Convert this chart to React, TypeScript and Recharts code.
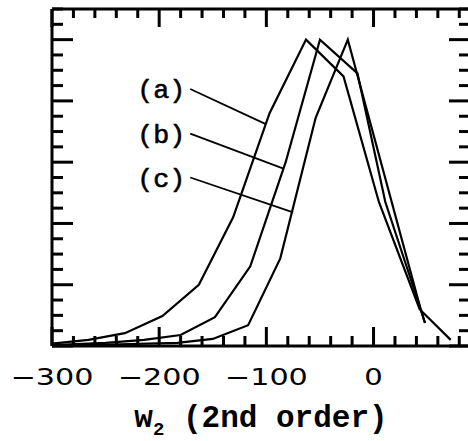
import React from "react";
import {
  LineChart,
  Line,
  XAxis,
  YAxis,
  ReferenceLine,
  ReferenceDot,
} from "recharts";

/* curves (a) (b) (c) ------------------------------------------------ */
const A_X = [-300, -266, -232, -197, -163, -131, -97, -63, -28, 5, 43, 72];
const A_Y = [0.008, 0.02, 0.042, 0.098, 0.2, 0.42, 0.76, 1.0, 0.88, 0.47, 0.12, 0.02];

const B_X = [-300, -250, -214, -180, -148, -115, -82, -50, -15, 11, 44, 48];
const B_Y = [0.003, 0.01, 0.02, 0.036, 0.094, 0.26, 0.6, 1.0, 0.89, 0.47, 0.12, 0.075];

const C_X = [-300, -183, -150, -117, -87, -54, -24, 44, 48];
const C_Y = [0.0, 0.01, 0.023, 0.068, 0.286, 0.745, 1.0, 0.12, 0.075];

/* ticks ------------------------------------------------------------- */
const X_TICKS = [-300, -280, -260, -240, -220, -200, -180, -160, -140, -120, -100, -80, -60, -40, -20, 0, 20, 40, 60, 80];
const X_LABELS = [-300, -200, -100, 0];
const Y_TICKS = [0, 0.05, 0.1, 0.15, 0.2, 0.25, 0.3, 0.35, 0.4, 0.45, 0.5, 0.55, 0.6, 0.65, 0.7, 0.75, 0.8, 0.85, 0.9, 0.95, 1.0, 1.05, 1.1];
const Y_MAJOR = [0, 0.2, 0.4, 0.6, 0.8, 1.0];

/* curve tags + pointer lines --------------------------------------- */
const TAGS = ["(a)", "(b)", "(c)"];
const TAG_FROM_X = [-171, -171, -171];
const TAG_FROM_Y = [0.839, 0.693, 0.55];
const TAG_TO_X = [-101, -84, -75];
const TAG_TO_Y = [0.725, 0.579, 0.436];

const zip = (xs: number[], ys: number[]) => xs.map((x, i) => ({ x, y: ys[i] }));
const CURVES = [zip(A_X, A_Y), zip(B_X, B_Y), zip(C_X, C_Y)];

/* frame ------------------------------------------------------------- */
const W = 470;
const H = 441;
const LEFT_W = 52;
const TOP_H = 9;
const BOTTOM_H = 95;
const PLOT_W = W - LEFT_W;
const PLOT_H = H - TOP_H - BOTTOM_H;
const X_DOM: [number, number] = [-300, 90];
const Y_DOM: [number, number] = [0, 1.1];
// pixel -> data units, so the tick marks keep a fixed pixel length
const PX_X = (X_DOM[1] - X_DOM[0]) / PLOT_W;
const PX_Y = (Y_DOM[1] - Y_DOM[0]) / PLOT_H;

const isMajorX = (v: number) => X_LABELS.includes(v);
const isMajorY = (v: number) => Y_MAJOR.some((m) => Math.abs(m - v) < 1e-9);
const fmt = (v: number) => (v < 0 ? "\u2212" + Math.abs(v) : String(v));

const TW = 3;

/* inward tick marks, top/bottom + left/right */
const TICK_SEGS: { x: number; y: number }[][] = [];
X_TICKS.forEach((v) => {
  const lb = (isMajorX(v) ? 19 : 10) * PX_Y;
  const lt = (isMajorX(v) ? 18 : 9) * PX_Y;
  TICK_SEGS.push([{ x: v, y: Y_DOM[0] }, { x: v, y: Y_DOM[0] + lb }]);
  TICK_SEGS.push([{ x: v, y: Y_DOM[1] }, { x: v, y: Y_DOM[1] - lt }]);
});
Y_TICKS.forEach((v) => {
  const l = (isMajorY(v) ? 21 : 11) * PX_X;
  TICK_SEGS.push([{ x: X_DOM[0], y: v }, { x: X_DOM[0] + l, y: v }]);
  TICK_SEGS.push([{ x: X_DOM[1], y: v }, { x: X_DOM[1] - l, y: v }]);
});

function XLabel({ x, y, payload }: any) {
  const v = payload.value;
  if (!isMajorX(v)) return <g />;
  const s = fmt(v);
  return (
    <text
      x={x}
      y={y + 39}
      textAnchor="middle"
      fontFamily="DejaVu Sans"
      fontSize={23}
      fill="#000"
      textLength={s.length * 21.5 - 3}
      lengthAdjust="spacingAndGlyphs"
    >
      {s}
    </text>
  );
}

function Title({ viewBox }: any) {
  const cx = viewBox.x + viewBox.width / 2;
  return (
    <text
      x={cx}
      y={viewBox.y + 81}
      textAnchor="middle"
      fontFamily="Liberation Mono"
      fontWeight="bold"
      fontSize={31}
      fill="#000"
    >
      <tspan>w</tspan>
      <tspan dy={8} fontSize={19}>2</tspan>
      <tspan dy={-8}> (2nd order)</tspan>
    </text>
  );
}

export default function App() {
  return (
    <div style={{ position: "absolute", left: 0, top: 0, width: 468, height: 441, overflow: "hidden", background: "#fff" }}>
      <LineChart width={W} height={H} margin={{ top: 0, right: 0, bottom: 0, left: 0 }}>
        <XAxis
          xAxisId="b"
          type="number"
          dataKey="x"
          domain={X_DOM}
          ticks={X_TICKS}
          interval={0}
          height={BOTTOM_H}
          tickSize={0}
          tickMargin={0}
          tickLine={false}
          tick={<XLabel />}
          axisLine={{ stroke: "#000", strokeWidth: 3 }}
          label={{ content: (p: any) => <Title {...p} /> }}
        />
        <XAxis
          xAxisId="t"
          orientation="top"
          type="number"
          domain={X_DOM}
          height={TOP_H}
          tick={false}
          tickLine={false}
          axisLine={{ stroke: "#000", strokeWidth: 3 }}
        />
        <YAxis
          yAxisId="l"
          type="number"
          domain={Y_DOM}
          ticks={Y_TICKS}
          interval={0}
          width={LEFT_W}
          tick={false}
          tickLine={false}
          axisLine={{ stroke: "#000", strokeWidth: 3 }}
        />

        {TICK_SEGS.map((seg, i) => (
          <ReferenceLine
            key={"k" + i}
            xAxisId="b"
            yAxisId="l"
            segment={seg}
            stroke="#000"
            strokeWidth={TW}
          />
        ))}

        {CURVES.map((d, i) => (
          <Line
            key={i}
            data={d}
            dataKey="y"
            xAxisId="b"
            yAxisId="l"
            type="linear"
            stroke="#000"
            strokeWidth={2.2}
            dot={false}
            isAnimationActive={false}
          />
        ))}

        {TAGS.map((t, i) => (
          <ReferenceLine
            key={"l" + i}
            xAxisId="b"
            yAxisId="l"
            segment={[
              { x: TAG_FROM_X[i], y: TAG_FROM_Y[i] },
              { x: TAG_TO_X[i], y: TAG_TO_Y[i] },
            ]}
            stroke="#000"
            strokeWidth={1.8}
          />
        ))}
        {TAGS.map((t, i) => (
          <ReferenceDot
            key={"t" + i}
            xAxisId="b"
            yAxisId="l"
            x={TAG_FROM_X[i]}
            y={TAG_FROM_Y[i]}
            r={0}
            shape={(p: any) => (
              <text
                x={p.cx - 5}
                y={p.cy + 9}
                textAnchor="end"
                fontFamily="Liberation Mono"
                fontSize={26}
                fill="#000"
                stroke="#000"
                strokeWidth={0.6}
                textLength={48}
                lengthAdjust="spacingAndGlyphs"
              >
                {t}
              </text>
            )}
          />
        ))}
      </LineChart>
    </div>
  );
}
